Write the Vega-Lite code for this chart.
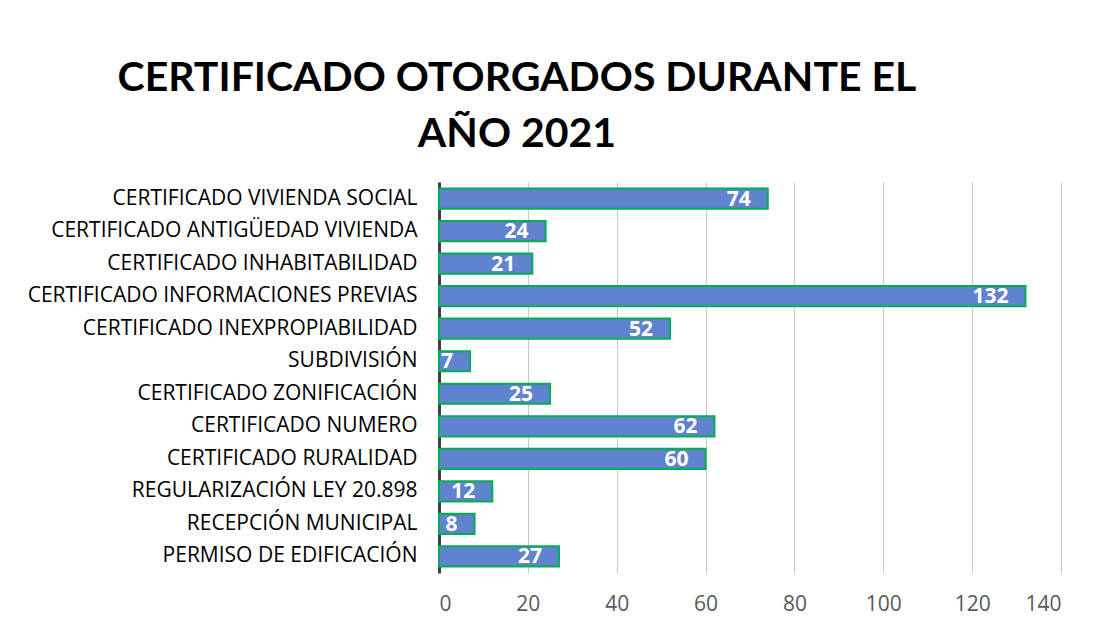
{
  "$schema": "https://vega.github.io/schema/vega-lite/v6.json",
  "width": 622,
  "height": 391,
  "autosize": "none",
  "padding": {"left": 439, "top": 182, "right": 39, "bottom": 54},
  "background": "white",
  "title": {
    "text": ["CERTIFICADO OTORGADOS DURANTE EL", "AÑO 2021"],
    "anchor": "middle",
    "frame": "group",
    "dx": -233,
    "offset": 26,
    "font": "Lato",
    "fontSize": 41,
    "fontWeight": "bold",
    "color": "#000000",
    "lineHeight": 56
  },
  "data": {
    "values": [
      {"tipo": "CERTIFICADO VIVIENDA SOCIAL", "cantidad": 74},
      {"tipo": "CERTIFICADO ANTIGÜEDAD VIVIENDA", "cantidad": 24},
      {"tipo": "CERTIFICADO INHABITABILIDAD", "cantidad": 21},
      {"tipo": "CERTIFICADO INFORMACIONES PREVIAS", "cantidad": 132},
      {"tipo": "CERTIFICADO INEXPROPIABILIDAD", "cantidad": 52},
      {"tipo": "SUBDIVISIÓN", "cantidad": 7},
      {"tipo": "CERTIFICADO ZONIFICACIÓN", "cantidad": 25},
      {"tipo": "CERTIFICADO NUMERO", "cantidad": 62},
      {"tipo": "CERTIFICADO RURALIDAD", "cantidad": 60},
      {"tipo": "REGULARIZACIÓN LEY 20.898", "cantidad": 12},
      {"tipo": "RECEPCIÓN MUNICIPAL", "cantidad": 8},
      {"tipo": "PERMISO DE EDIFICACIÓN", "cantidad": 27}
    ]
  },
  "encoding": {
    "y": {
      "field": "tipo",
      "type": "nominal",
      "sort": null,
      "scale": {"paddingInner": 0.38, "paddingOuter": 0.2},
      "axis": {
        "title": null,
        "ticks": false,
        "domain": true,
        "domainColor": "#404040",
        "domainWidth": 3,
        "labelFont": "Open Sans",
        "labelFontSize": 21,
        "labelColor": "#000000",
        "labelPadding": 22,
        "labelLimit": 430
      }
    },
    "x": {
      "field": "cantidad",
      "type": "quantitative",
      "scale": {"domain": [0, 140]},
      "axis": {
        "title": null,
        "values": [0, 20, 40, 60, 80, 100, 120, 140],
        "ticks": false,
        "domain": false,
        "grid": true,
        "gridColor": "#c8c8c8",
        "gridWidth": 1,
        "labelFont": "Open Sans",
        "labelFontSize": 21,
        "labelColor": "#595959",
        "labelPadding": 20
      }
    }
  },
  "layer": [
    {
      "mark": {"type": "bar", "color": "#5F83CE", "stroke": "#00B050", "strokeWidth": 2}
    },
    {
      "mark": {"type": "text", "align": "right", "baseline": "middle", "dx": -17, "dy": 1, "color": "#ffffff", "font": "Open Sans", "fontWeight": "bold", "fontSize": 21},
      "encoding": {"text": {"field": "cantidad", "type": "quantitative"}}
    }
  ],
  "config": {"view": {"stroke": null}}
}
